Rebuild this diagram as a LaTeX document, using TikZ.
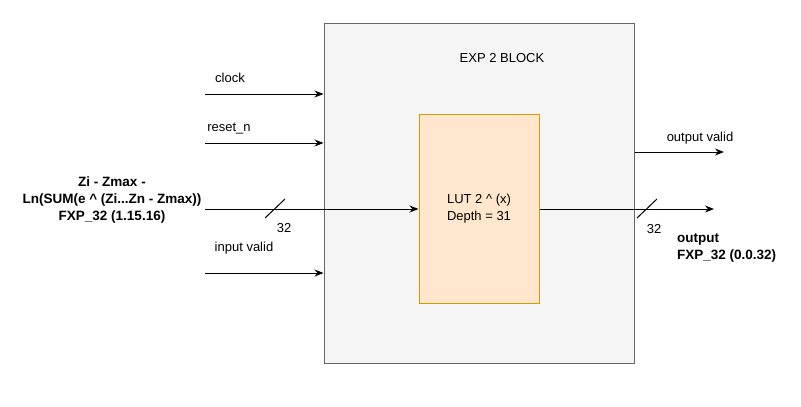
\documentclass[tikz,border=0pt]{standalone}
\usepackage{fontspec}
\setmainfont{Liberation Sans}
\usetikzlibrary{arrows.meta}
\definecolor{boxfill}{HTML}{F5F5F5}
\definecolor{boxline}{HTML}{666666}
\definecolor{lutfill}{HTML}{FFE6CC}
\definecolor{lutline}{HTML}{D79B00}
\tikzset{
  sig/.style={line width=1pt, -{Stealth[length=9pt,width=7pt]}},
  lbl/.style={font=\fontsize{13}{15}\selectfont, inner sep=0pt},
  blbl/.style={font=\fontsize{13.5}{17}\selectfont\bfseries, inner sep=0pt, align=center},
  slash/.style={line width=1pt},
}
\begin{document}
\begin{tikzpicture}[x=1pt,y=-1pt]
\useasboundingbox (0,0) rectangle (801,407);
\node[draw=boxline, fill=boxfill, line width=1pt, minimum width=310pt, minimum height=340pt, inner sep=0pt] (exp) at (479,193) {};
\node[lbl] (title) at (502,58) {EXP 2 BLOCK};
\node[draw=lutline, fill=lutfill, line width=1pt, minimum width=120pt, minimum height=189pt, inner sep=0pt, align=center, font=\fontsize{13}{17}\selectfont] (lut) at (479,208.5) {LUT 2 \^{} (x)\\Depth = 31};
% inputs
\coordinate (clkin) at (205,94);
\coordinate (rstin) at (205,143);
\coordinate (datin) at (205,209);
\coordinate (vldin) at (205,273);
\draw[sig] (clkin) -- (clkin -| exp.west);
\draw[sig] (rstin) -- (rstin -| exp.west);
\draw[sig] (datin) -- (datin -| lut.west);
\draw[sig] (vldin) -- (vldin -| exp.west);
\node[lbl] (clk) at (230,78) {clock};
\node[lbl] (rst) at (229,129) {reset\_n};
\node[lbl] (ivld) at (244,248) {input valid};
\node[blbl] (din) at (112,200) {Zi - Zmax -\\Ln(SUM(e \^{} (Zi...Zn - Zmax))\\FXP\_32 (1.15.16)};
\coordinate (s1a) at (265,218);
\coordinate (s1b) at (285,199);
\draw[slash] (s1a) -- (s1b);
\node[lbl] (w1) at (284,228) {32};
% outputs
\coordinate (ovout) at (724,152);
\coordinate (dout) at (714,209);
\draw[sig] (ovout -| exp.east) -- (ovout);
\draw[sig] (lut.east |- dout) -- (dout);
\node[lbl] (ovld) at (700,138) {output valid};
\coordinate (s2a) at (637,218);
\coordinate (s2b) at (657,199);
\draw[slash] (s2a) -- (s2b);
\node[lbl] (w2) at (654,229) {32};
\node[blbl, align=left, anchor=west] (dlbl) at (677,248) {output\\FXP\_32 (0.0.32)};
\end{tikzpicture}
\end{document}
